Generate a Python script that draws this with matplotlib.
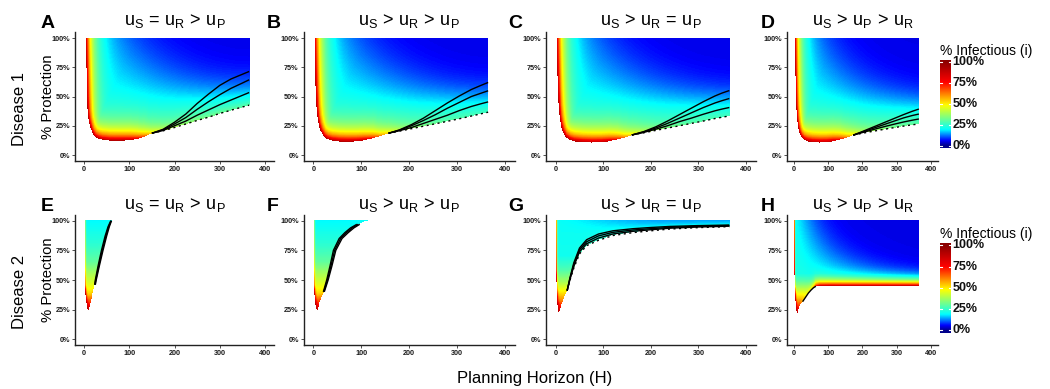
import numpy as np
import matplotlib
matplotlib.use('Agg')
import matplotlib.pyplot as plt
from matplotlib.colors import LinearSegmentedColormap
from matplotlib.path import Path

plt.rcParams['font.family'] = ['Liberation Sans', 'DejaVu Sans']
plt.rcParams['mathtext.fontset'] = 'custom'
plt.rcParams['mathtext.rm'] = 'Liberation Sans'
plt.rcParams['mathtext.it'] = 'Liberation Sans:italic'

# ---------------- data ----------------
titles = [r'$\mathrm{u_S\,=\,u_R\,>\,u_P}$', r'$\mathrm{u_S\,>\,u_R\,>\,u_P}$',
          r'$\mathrm{u_S\,>\,u_R\,=\,u_P}$', r'$\mathrm{u_S\,>\,u_P\,>\,u_R}$']
letters = ['A', 'B', 'C', 'D', 'E', 'F', 'G', 'H']
x_ticks = [0, 100, 200, 300, 400]
y_ticks = [0, 25, 50, 75, 100]
y_labels = ['0%', '25%', '50%', '75%', '100%']
legend_ticks = [0, 25, 50, 75, 100]
legend_labels = ['0%', '25%', '50%', '75%', '100%']

# Disease 1 panels: left/bottom edge of the shaded region
A_eH = [4.4, 5.2, 6.5, 8, 10, 13, 17, 24, 32, 40, 57, 75, 100, 116, 131]
A_eP = [100, 75, 50, 37, 30, 25, 20, 15.5, 13.8, 13, 12.3, 12.2, 12.5, 13.4, 15.5]
A_eI = [0.86, 0.9, 0.92, 0.92, 0.92, 0.92, 0.92, 0.92, 0.92, 0.92, 0.92, 0.92, 0.9, 0.82, 0.68]
A_lH = [150, 175, 200, 225, 250, 275, 300, 325, 350, 365]
A_l1 = [18.6, 22, 28, 35, 44, 52, 59.5, 65, 69, 71.4]
A_l2 = [18.6, 21.5, 26.5, 32, 39, 45.5, 51.5, 57, 61.5, 64.3]
A_l3 = [18.6, 21, 25, 29, 34, 38.5, 43, 47, 51, 53.4]
A_l4 = [18.6, 20.7, 23.5, 26.5, 29.5, 32.3, 35.5, 38.3, 41, 42.6]
A_lI = [0.52, 0.45, 0.4, 0.37, 0.35, 0.33, 0.32, 0.31, 0.3, 0.3]

B_eH = [3.5, 4.3, 5.5, 7, 9, 12, 16, 22, 30, 40, 55, 72, 90, 108, 125, 140]
B_eP = [100, 75, 55, 42, 33, 26, 20.5, 16, 13.5, 12.3, 11.6, 11.4, 11.7, 12.6, 14.2, 16.2]
B_eI = [0.86, 0.9, 0.92, 0.92, 0.92, 0.92, 0.92, 0.92, 0.92, 0.92, 0.92, 0.92, 0.9, 0.86, 0.76, 0.62]
B_lH = [157, 180, 205, 230, 255, 280, 305, 330, 350, 365]
B_l1 = [18.6, 21.5, 26, 31.5, 38, 44.5, 50.5, 56, 59.5, 62]
B_l2 = [18.6, 21.2, 25, 29.5, 34.5, 40, 45, 50, 52.8, 54.9]
B_l3 = [18.6, 20.8, 23.5, 27, 30.5, 34, 38, 41.5, 43.8, 45.4]
B_l4 = [18.6, 20.4, 22.5, 24.6, 26.7, 28.8, 31, 33.3, 35.2, 36.6]
B_lI = [0.52, 0.44, 0.38, 0.34, 0.32, 0.3, 0.29, 0.28, 0.27, 0.27]

C_eH = [2, 2.8, 4, 5.5, 7.5, 10, 14, 20, 28, 38, 55, 75, 95, 112, 128, 145]
C_eP = [100, 75, 55, 42, 33, 26, 20, 15.5, 13, 11.7, 10.9, 10.6, 10.9, 11.8, 13.2, 15]
C_eI = [0.86, 0.9, 0.92, 0.92, 0.92, 0.92, 0.92, 0.92, 0.92, 0.92, 0.92, 0.92, 0.9, 0.86, 0.76, 0.62]
C_lH = [160, 185, 210, 235, 260, 285, 310, 335, 350, 365]
C_l1 = [17.1, 20, 24, 29, 34.5, 40, 45.5, 50.5, 53, 55.1]
C_l2 = [17.1, 19.7, 23, 27, 31.5, 36, 40.5, 44.5, 46.5, 48.3]
C_l3 = [17.1, 19.3, 22, 25, 28.5, 31.5, 34.8, 37.8, 39.3, 40.6]
C_l4 = [17.1, 19, 21, 23, 25, 27, 29, 31.2, 32.3, 33.4]
C_lI = [0.52, 0.44, 0.38, 0.34, 0.32, 0.3, 0.29, 0.28, 0.27, 0.27]

D_eH = [3, 3.8, 5, 6.5, 8.5, 11, 15, 21, 29, 39, 55, 75, 95, 115, 135, 155]
D_eP = [100, 75, 55, 42, 33, 26, 20, 15.5, 13, 11.7, 10.9, 10.6, 10.9, 11.8, 13.2, 15]
D_eI = [0.86, 0.9, 0.92, 0.92, 0.92, 0.92, 0.92, 0.92, 0.92, 0.92, 0.92, 0.92, 0.9, 0.86, 0.76, 0.62]
D_lH = [173, 195, 220, 245, 270, 295, 320, 345, 365]
D_l1 = [17, 19.5, 22.5, 25.5, 28.5, 31.5, 34.5, 37.3, 39.3]
D_l2 = [17, 19.2, 21.7, 24.2, 26.7, 29.2, 31.7, 33.7, 35]
D_l3 = [17, 18.8, 20.8, 22.8, 24.7, 26.5, 28.2, 29.7, 30.8]
D_l4 = [17, 18.3, 19.7, 21, 22.3, 23.5, 24.7, 25.8, 26.5]
D_lI = [0.52, 0.45, 0.4, 0.37, 0.35, 0.33, 0.32, 0.31, 0.3]

# Disease 2 panels: boundary of the shaded region
E_bH = [1.5, 1.5, 2, 3.5, 6, 8.5, 9.6, 11, 14, 18, 22, 27, 34, 42, 50, 56, 60.8]
E_bP = [100, 60, 45, 35, 28, 24.5, 24.2, 25, 30, 37, 44, 50, 62, 75, 87, 95, 100]
E_bI = [0.7, 0.85, 0.9, 0.9, 0.9, 0.9, 0.9, 0.86, 0.72, 0.58, 0.47, 0.42, 0.35, 0.28, 0.23, 0.21, 0.2]
E_lP = [46, 50, 62, 75, 87, 95, 100]
E_l1 = [25, 27, 34, 42, 50, 56, 60.8]
E_l2 = [24.2, 26, 32.6, 40.3, 48.3, 54.6, 60]
E_l3 = [23.5, 25, 31.2, 38.6, 46.6, 53.2, 59.2]

F_bH = [1.5, 1.5, 2, 3.5, 5.5, 7.5, 8.4, 10, 14, 18, 23, 31, 39, 47, 60, 73, 85, 97, 108, 120]
F_bP = [100, 60, 45, 35, 28, 24.5, 23.3, 25.5, 31, 35.5, 40, 50, 62, 75, 85, 90, 94, 97, 99, 100]
F_bI = [0.7, 0.85, 0.9, 0.9, 0.9, 0.9, 0.9, 0.86, 0.7, 0.6, 0.52, 0.42, 0.33, 0.27, 0.23, 0.21, 0.2, 0.2, 0.2, 0.2]
F_lP = [40, 50, 62, 75, 85, 90, 94, 97]
F_l1 = [23, 31, 39, 47, 60, 73, 85, 97]
F_l2 = [22, 29.5, 37, 44.5, 57, 69.5, 81.5, 94]
F_l3 = [21, 28, 35, 42, 54, 66, 78, 91]

G_eH = [0.8, 0.8, 1.5, 2.5, 4, 5.6, 7, 10, 15, 20]
G_eP = [100, 58, 42, 32, 25, 21.9, 23, 27, 33, 38]
G_eI = [0.7, 0.85, 0.9, 0.9, 0.9, 0.9, 0.86, 0.72, 0.6, 0.52]
G_lH = [24, 30, 38, 50, 65, 90, 120, 163, 200, 240, 300, 365]
G_l1 = [41, 52, 64.5, 77, 84, 88.8, 91.5, 93.3, 94.3, 95.2, 95.9, 96.4]
G_l2 = [41, 51.3, 63, 75.5, 82.3, 87.2, 90.2, 92.2, 93.3, 94.4, 95.3, 95.9]
G_l3 = [41, 50.6, 61.5, 73.8, 80.6, 85.4, 88.8, 91.1, 92.4, 93.7, 94.7, 95.4]
G_l4 = [41, 50, 60, 72, 79, 83.5, 87.5, 90, 91.5, 93, 94.2, 95]
G_lI = [0.45, 0.38, 0.32, 0.28, 0.26, 0.25, 0.25, 0.24, 0.24, 0.24, 0.24, 0.24]

H_bH = [1, 1, 2, 4, 6.5, 8.8, 11, 15.6, 25, 35, 50, 64, 75, 100, 200, 365]
H_bP = [100, 57, 45, 33, 25, 21, 23, 27.5, 31.7, 36, 41.6, 44.5, 44.2, 44.2, 44.2, 44.2]
H_bI = [0.7, 0.85, 0.9, 0.9, 0.9, 0.9, 0.86, 0.7, 0.55, 0.48, 0.5, 0.75, 0.92, 0.94, 0.94, 0.94]
H_lH = [25, 35, 42, 50, 57, 64]
H_lP = [31.7, 36, 39, 41.6, 43.5, 44.7]

# background level (far from the edge) as a function of protection
D1_bgP = [0, 100]
D1_bgV = [0.2, 0.2]
E_bgP = [20, 24, 30, 38, 45, 55, 65, 80, 95, 100]
E_bgV = [0.85, 0.8, 0.65, 0.5, 0.45, 0.38, 0.3, 0.24, 0.2, 0.19]
G_bgP = [20, 25, 32, 40, 48, 58, 70, 100]
G_bgV = [0.85, 0.75, 0.58, 0.48, 0.38, 0.28, 0.21, 0.2]
H_bgP = [20, 28, 35, 42, 48, 55, 100]
H_bgV = [0.85, 0.62, 0.5, 0.4, 0.3, 0.22, 0.2]

# ---------------- model grid ----------------
Hc = np.arange(0, 365, 0.5) + 0.25
Pc = np.arange(0, 100, 0.25) + 0.125
HH, PP = np.meshgrid(Hc, Pc)

cmap = LinearSegmentedColormap.from_list(
    'inf', [(0, '#00008B'), (0.06, '#0000FF'), (0.19, '#00FFFF'),
            (0.48, '#FFFF00'), (0.75, '#FF0000'), (1.0, '#8B0000')])
cmap.set_bad((1, 1, 1, 0))


def build_field(bH, bP, bI, bS, kH, bgP, bgV, P0, C, lo, w, r1, r2):
    bH = np.asarray(bH, float); bP = np.asarray(bP, float)
    bI = np.asarray(bI, float); bS = np.asarray(bS, float)
    base = np.interp(PP, bgP, bgV)
    u = np.clip(HH + 3, 0, None) * np.clip(PP - P0, 0, None) / C
    bg = lo + (base - lo) * np.exp(-0.45 * u ** 1.5)
    X = HH / kH
    best = np.zeros_like(HH)
    for k in range(len(bH) - 1):
        x0, y0 = bH[k] / kH, bP[k]
        x1, y1 = bH[k + 1] / kH, bP[k + 1]
        dx, dy = x1 - x0, y1 - y0
        L2 = dx * dx + dy * dy
        if L2 == 0:
            continue
        t = np.clip(((X - x0) * dx + (PP - y0) * dy) / L2, 0, 1)
        d = np.hypot(X - (x0 + t * dx), PP - (y0 + t * dy))
        ib = bI[k] + t * (bI[k + 1] - bI[k])
        s = bS[k] + t * (bS[k + 1] - bS[k])
        frac = w * np.exp(-d / (r1 * s)) + (1 - w) * np.exp(-d / (r2 * s))
        best = np.maximum(best, (ib - bg) * frac)
    val = bg + best
    poly = [(bH[0], 100.6)] + list(zip(bH, bP)) + [(bH[-1], 100.6)]
    path = Path(poly + [poly[0]], closed=True)
    inside = path.contains_points(np.c_[HH.ravel(), PP.ravel()]).reshape(HH.shape)
    return np.ma.array(val, mask=~inside)


D1 = dict(s=10.0, kH=1.3, bgP=D1_bgP, bgV=D1_bgV, lo=0.05, w=0.2, r1=0.3, r2=1.15)
D2 = dict(s=None, kH=1.0, lo=0.05, w=0.0, r1=1.0, r2=1.0)
panels = [
    dict(D1, bH=A_eH + A_lH, bP=A_eP + A_l4, bI=A_eI + A_lI, P0=35, C=4300,
         lines=[(A_lH, A_l1), (A_lH, A_l2), (A_lH, A_l3)], dotted=(A_lH, A_l4)),
    dict(D1, bH=B_eH + B_lH, bP=B_eP + B_l4, bI=B_eI + B_lI, P0=33, C=4000,
         lines=[(B_lH, B_l1), (B_lH, B_l2), (B_lH, B_l3)], dotted=(B_lH, B_l4)),
    dict(D1, bH=C_eH + C_lH, bP=C_eP + C_l4, bI=C_eI + C_lI, P0=32, C=4000,
         lines=[(C_lH, C_l1), (C_lH, C_l2), (C_lH, C_l3)], dotted=(C_lH, C_l4)),
    dict(D1, bH=D_eH + D_lH, bP=D_eP + D_l4, bI=D_eI + D_lI, P0=30, C=4000,
         lines=[(D_lH, D_l1), (D_lH, D_l2), (D_lH, D_l3)], dotted=(D_lH, D_l4)),
    dict(D2, bH=E_bH, bP=E_bP, bI=E_bI, bgP=E_bgP, bgV=E_bgV, P0=100, C=1e9,
         lines=[(E_l1, E_lP), (E_l2, E_lP), (E_l3, E_lP)], dotted=None),
    dict(D2, bH=F_bH, bP=F_bP, bI=F_bI, bgP=E_bgP, bgV=E_bgV, P0=100, C=1e9,
         lines=[(F_l1, F_lP), (F_l2, F_lP), (F_l3, F_lP)], dotted=None),
    dict(D2, bH=G_eH + G_lH, bP=G_eP + G_l4, bI=G_eI + G_lI, bgP=G_bgP, bgV=G_bgV,
         P0=88, C=1000, lo=0.13,
         lines=[(G_lH, G_l1), (G_lH, G_l2), (G_lH, G_l3)], dotted=(G_lH, G_l4)),
    dict(D2, bH=H_bH, bP=H_bP, bI=H_bI, bgP=H_bgP, bgV=H_bgV, P0=44, C=2200,
         lines=[(H_lH, H_lP)], dotted=None),
]


def decay_scales(p, idx):
    n = len(p['bH'])
    if p['s'] is not None:
        return [p['s']] * n
    out = []
    for H, P in zip(p['bH'], p['bP']):
        if idx == 7 and P > 44 and H > 60:
            out.append(3.4)
        elif H < 2.5 and P > 40:
            out.append(1.2)
        elif P < 32:
            out.append(4.0)
        else:
            out.append(2.5)
    return out


# ---------------- layout (pixels) ----------------
W, HP = 1050, 389
fig = plt.figure(figsize=(W / 100, HP / 100), dpi=100)

col_left = [74.95, 303.7, 546.2, 787.2]
col_width = [199.1, 210.8, 209.3, 150.5]
row_top = [32.15, 214.8]
row_h = [128.7, 130.4]
letter_x = [40.7, 266.7, 508, 760.7]
letter_base = [28.3, 211]
title_base = [25, 209]

for idx, p in enumerate(panels):
    r, c = divmod(idx, 4)
    ax = fig.add_axes([col_left[c] / W, 1 - (row_top[r] + row_h[r]) / HP,
                       col_width[c] / W, row_h[r] / HP])
    field = build_field(p['bH'], p['bP'], p['bI'], decay_scales(p, idx), p['kH'],
                        p['bgP'], p['bgV'], p['P0'], p['C'], p['lo'],
                        p['w'], p['r1'], p['r2'])
    ax.imshow(field, origin='lower', extent=[0, 365, 0, 100], cmap=cmap,
              vmin=0, vmax=1, aspect='auto', interpolation='nearest', zorder=1)
    for lx, ly in p['lines']:
        ax.plot(lx, ly, color='black', lw=1.0, zorder=3, solid_capstyle='butt')
    if p['dotted'] is not None:
        ax.plot(p['dotted'][0], p['dotted'][1], color='black', lw=1.0,
                ls=(0, (1.5, 2.5)), zorder=3)
    ax.set_xlim(-20, 420)
    ax.set_ylim(-5, 105)
    for sp in ['top', 'right']:
        ax.spines[sp].set_visible(False)
    for sp in ['left', 'bottom']:
        ax.spines[sp].set_linewidth(1.0)
        ax.spines[sp].set_color('#222222')
    ax.set_xticks(x_ticks)
    ax.set_xticklabels([str(v) for v in x_ticks])
    ax.set_yticks(y_ticks)
    ax.set_yticklabels(y_labels)
    ax.tick_params(length=2, width=0.6, color='#333333', pad=1.5,
                   labelsize=5.2, labelcolor='#1a1a1a')
    for lab in ax.get_xticklabels() + ax.get_yticklabels():
        lab.set_fontweight('bold')
    ax.set_facecolor('white')
    cx = (col_left[c] + col_width[c] / 2) / W
    fig.text(cx, 1 - title_base[r] / HP, titles[c], ha='center', va='baseline',
             fontsize=13)
    fig.text(letter_x[c] / W, 1 - letter_base[r] / HP, letters[idx], ha='left',
             va='baseline', fontsize=14, fontweight='bold')

# row labels
for r, name in enumerate(['Disease 1', 'Disease 2']):
    yc = row_top[r] + row_h[r] / 2
    fig.text(20 / W, 1 - (yc + 12) / HP, name, rotation=90, ha='center',
             va='center', fontsize=12)
    fig.text(47.5 / W, 1 - yc / HP, '% Protection', rotation=90, ha='center',
             va='center', fontsize=10.7)

fig.text(535 / W, 1 - 378 / HP, 'Planning Horizon (H)', ha='center',
         va='center', fontsize=12)

# legends
leg_top = [60, 243.3]
leg_bot = [148.3, 332.7]
leg_title_base = [55, 238]
grad = np.clip(np.linspace(-2.7, 102.4, 400) / 100, 0, 1)[:, None]
for r in range(2):
    cax = fig.add_axes([940 / W, 1 - leg_bot[r] / HP, 10.7 / W,
                        (leg_bot[r] - leg_top[r]) / HP])
    cax.imshow(grad, origin='lower', extent=[0, 1, -2.7, 102.4], cmap=cmap,
               vmin=0, vmax=1, aspect='auto', interpolation='bilinear')
    cax.set_xlim(0, 1)
    cax.set_ylim(-2.7, 102.4)
    cax.axis('off')
    span = leg_bot[r] - leg_top[r]
    for v, lab in zip(legend_ticks, legend_labels):
        cax.plot([0, 0.2], [v, v], color='white', lw=0.8)
        cax.plot([0.8, 1], [v, v], color='white', lw=0.8)
        ypx = leg_bot[r] - (v + 2.7) / 105.1 * span
        fig.text(952.7 / W, 1 - ypx / HP, lab, ha='left', va='center',
                 fontsize=9, fontweight='bold', color='#111111')
    fig.text(940 / W, 1 - leg_title_base[r] / HP, '% Infectious (i)', ha='left',
             va='baseline', fontsize=10)

fig.savefig('out.png', dpi=100, facecolor='white')
